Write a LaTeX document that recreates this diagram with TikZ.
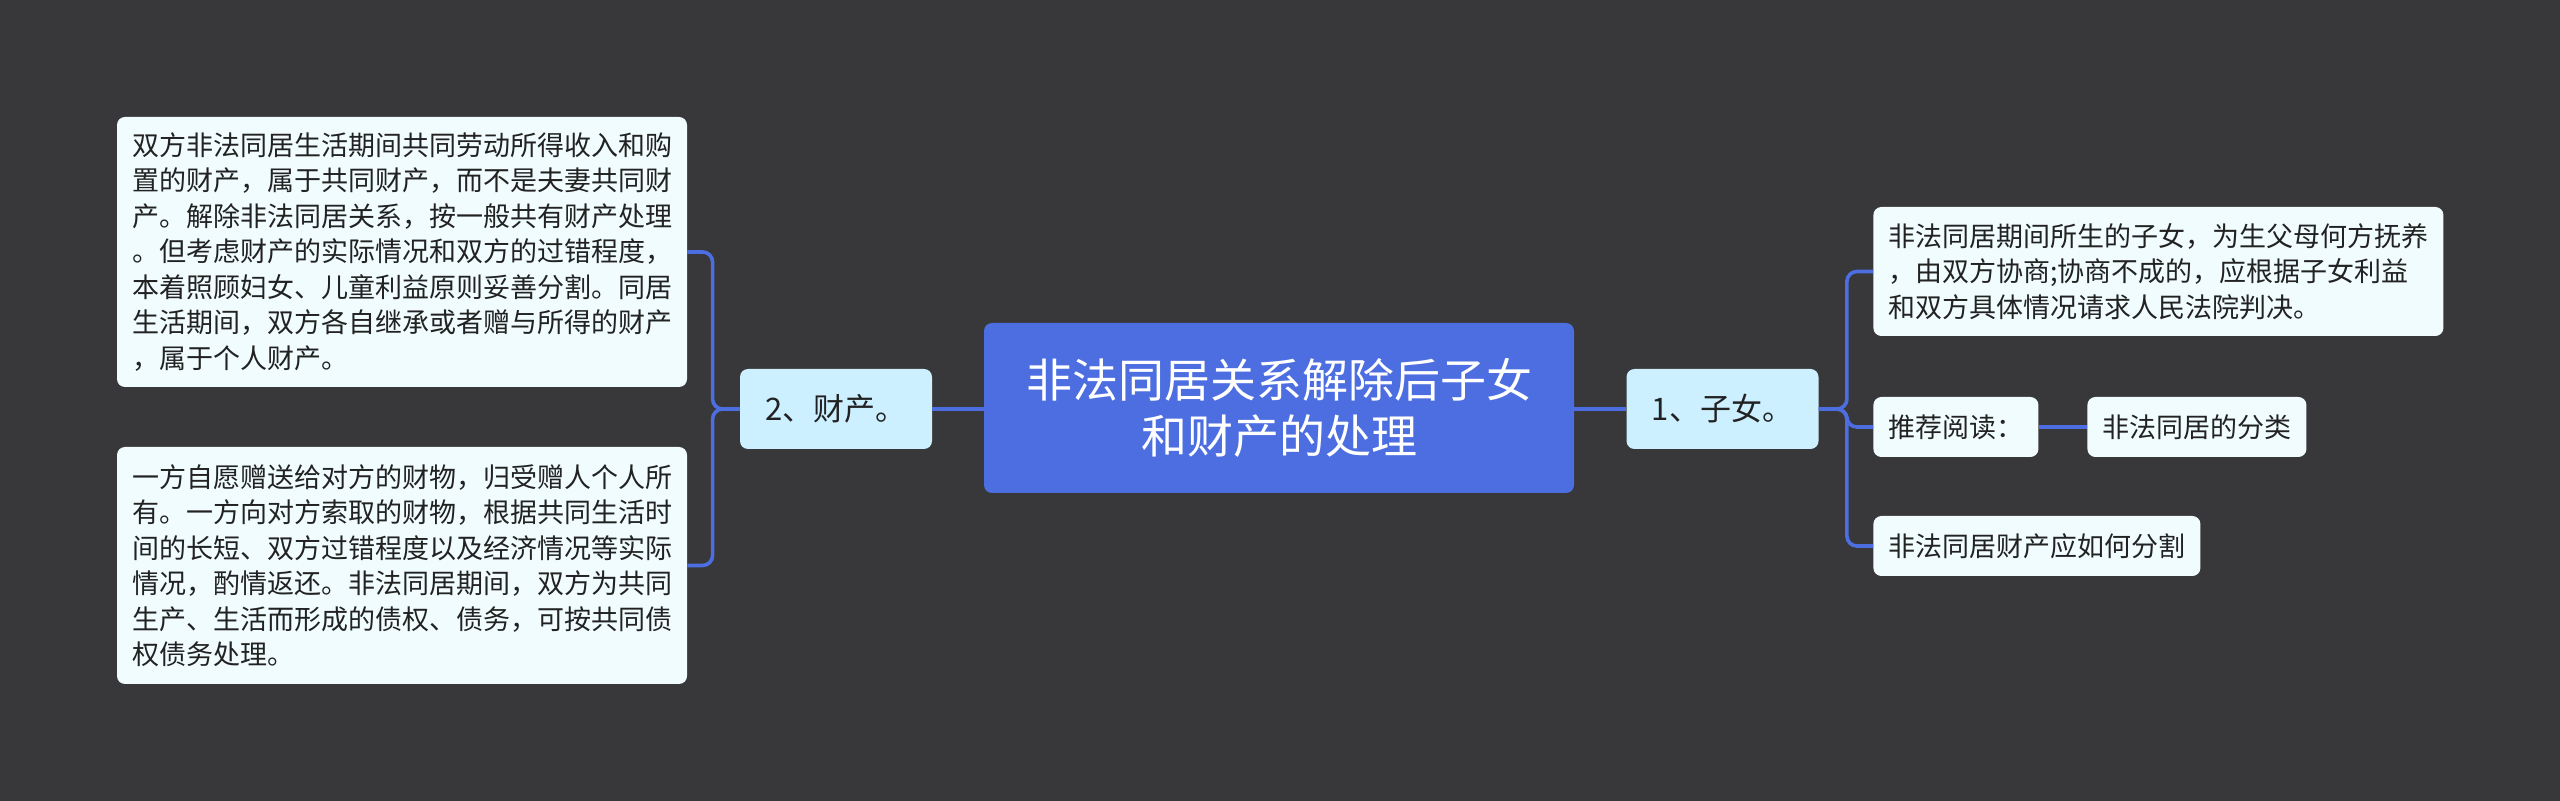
\documentclass[tikz,border=0pt]{standalone}
\usepackage{fontspec}
\setmainfont{Noto Sans CJK SC}
\definecolor{bgc}{HTML}{383739}
\definecolor{maincol}{HTML}{4D6EE0}
\definecolor{childcol}{HTML}{CCF0FF}
\definecolor{leafcol}{HTML}{F0FCFE}
\definecolor{linecol}{HTML}{4D6EE0}
\definecolor{txt}{HTML}{222222}
\begin{document}
\begin{tikzpicture}[x=0.5pt,y=-0.5pt,
  rootbox/.style={fill=maincol, rounded corners=4pt, text=white, align=center,
    minimum width=295pt, minimum height=85pt, inner sep=0pt,
    font=\fontsize{23}{27.8}\selectfont},
  childbox/.style={fill=childcol, rounded corners=4pt, text=txt, align=center,
    minimum width=96pt, minimum height=40pt, inner sep=0pt,
    font=\fontsize{15.5}{18}\selectfont},
  leafbox/.style={fill=leafcol, rounded corners=4pt, text=txt, align=left,
    inner xsep=7.5pt, inner ysep=0pt, minimum height=30pt,
    font=\fontsize{13.5}{17.75}\selectfont},
  conn/.style={draw=linecol, line width=1.8pt, rounded corners=5pt}
]
\fill[bgc] (0,0) rectangle (2560,801);
\useasboundingbox (0,0) rectangle (2560,801);

\node[rootbox] (root) at (1279,408) {非法同居关系解除后子女\\和财产的处理};
\node[childbox] (cai) at (836,409) {2、财产。};
\node[childbox] (zi) at (1722.5,409) {1、子女。};

\node[leafbox, text width=270pt, minimum height=135pt] (l1) at (402,252) {双方非法同居生活期间共同劳动所得收入和购\\置的财产，属于共同财产，而不是夫妻共同财\\产。解除非法同居关系，按一般共有财产处理\\。但考虑财产的实际情况和双方的过错程度，\\本着照顾妇女、儿童利益原则妥善分割。同居\\生活期间，双方各自继承或者赠与所得的财产\\，属于个人财产。};
\node[leafbox, text width=270pt, minimum height=118.5pt] (l2) at (402,565.5) {一方自愿赠送给对方的财物，归受赠人个人所\\有。一方向对方索取的财物，根据共同生活时\\间的长短、双方过错程度以及经济情况等实际\\情况，酌情返还。非法同居期间，双方为共同\\生产、生活而形成的债权、债务，可按共同债\\权债务处理。};

\node[leafbox, text width=270pt, minimum height=64.5pt, anchor=west] (r1) at (1873,271.5) {非法同居期间所生的子女，为生父母何方抚养\\，由双方协商;协商不成的，应根据子女利益\\和双方具体情况请求人民法院判决。};
\node[leafbox, anchor=west] (tj) at (1873,427) {推荐阅读：};
\node[leafbox, anchor=west] (fl) at (2087,427) {非法同居的分类};
\node[leafbox, anchor=west] (r3) at (1873,546) {非法同居财产应如何分割};

\draw[conn] (root.west |- 0,409) -- (cai.east);
\draw[conn] (root.east |- 0,409) -- (zi.west);
\draw[conn] (cai.west) -- ++(-27,0) |- (l1.east);
\draw[conn] (cai.west) -- ++(-27,0) |- (l2.east);
\draw[conn] (zi.east) -- ++(28,0) |- (r1.west);
\draw[conn] (zi.east) -- ++(28,0) |- (tj.west);
\draw[conn] (zi.east) -- ++(28,0) |- (r3.west);
\draw[conn] (tj.east) -- (fl.west);
\end{tikzpicture}
\end{document}
